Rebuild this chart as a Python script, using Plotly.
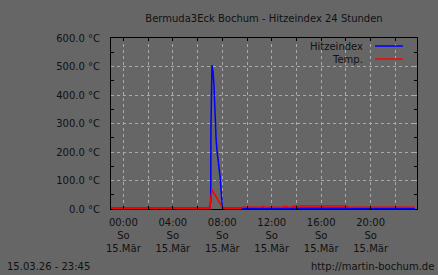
import plotly.graph_objects as go

# ---- data ----
temp_times = ["2026-03-14 23:00", "2026-03-15 07:00", "2026-03-15 07:04", "2026-03-15 07:10",
              "2026-03-15 08:00", "2026-03-15 08:05", "2026-03-15 09:30", "2026-03-15 09:35",
              "2026-03-15 11:10", "2026-03-15 11:15", "2026-03-15 11:25", "2026-03-15 12:55",
              "2026-03-15 13:00", "2026-03-15 13:15", "2026-03-15 13:20", "2026-03-15 13:35",
              "2026-03-15 13:40", "2026-03-15 14:00", "2026-03-15 18:05", "2026-03-15 18:10",
              "2026-03-15 23:35"]
temp_vals = [2.5, 2.5, 35, 68,
             5, 2.5, 2.5, 6,
             6, 9, 6, 6,
             9, 9, 6, 6,
             9, 10.5, 10.5, 6.5,
             6.5]

heat_times = ["2026-03-14 23:00", "2026-03-15 07:00", "2026-03-15 07:04", "2026-03-15 07:05",
              "2026-03-15 07:10", "2026-03-15 07:15", "2026-03-15 07:20", "2026-03-15 07:25",
              "2026-03-15 07:30", "2026-03-15 07:35", "2026-03-15 07:40", "2026-03-15 07:45",
              "2026-03-15 07:50", "2026-03-15 07:55", "2026-03-15 08:00", "2026-03-15 08:05",
              "2026-03-15 23:35"]
heat_vals = [2.5, 2.5, 30, 283,
             505, 482, 430, 300,
             245, 200, 160, 140,
             110, 70, 8, 2.5,
             2.5]

y_ticks = [0, 100, 200, 300, 400, 500, 600]
x_tickvals = ["2026-03-15 00:00", "2026-03-15 04:00", "2026-03-15 08:00",
              "2026-03-15 12:00", "2026-03-15 16:00", "2026-03-15 20:00"]
x_ticktext = [t[-5:] + "<br>So<br>15.Mär" for t in x_tickvals]

title_text = "Bermuda3Eck Bochum - Hitzeindex 24 Stunden"
series_names = ["Hitzeindex", "Temp."]
series_colors = ["#0000ff", "#ff0000"]

BG = "#666666"
TXT = "#111111"
GRID = "#ababab"
FONT = "DejaVu Sans"
DASH = "3px,3px"

fig = go.Figure()
fig.add_trace(go.Scatter(x=heat_times, y=heat_vals, mode="lines", name=series_names[0],
                         line=dict(color=series_colors[0], width=1.5), showlegend=False))
fig.add_trace(go.Scatter(x=temp_times, y=temp_vals, mode="lines", name=series_names[1],
                         line=dict(color=series_colors[1], width=1.5), showlegend=False))

fig.update_layout(
    width=438, height=275,
    margin=dict(l=111, r=21, t=38, b=66),
    paper_bgcolor=BG, plot_bgcolor=BG,
    font=dict(family=FONT, size=10, color=TXT),
    title=dict(text=title_text, x=0.5, xref="paper", xanchor="center",
               y=1 - 18 / 275, yanchor="middle", font=dict(size=10, color=TXT)),
)

fig.update_xaxes(
    range=["2026-03-14 23:00", "2026-03-15 23:45"],
    tickmode="array", tickvals=x_tickvals, ticktext=x_ticktext,
    showgrid=False, zeroline=False,
    showline=True, linecolor="black", linewidth=1, mirror="ticks",
    ticks="inside", ticklen=3, tickcolor="black",
    ticklabelstandoff=4,
    tickfont=dict(size=10, color=TXT),
    minor=dict(dtick=2 * 3600000, tick0="2026-03-15 00:00", showgrid=True,
               gridcolor=GRID, griddash=DASH, gridwidth=1,
               ticks="inside", ticklen=3, tickcolor="black"),
)

fig.update_yaxes(
    range=[0, 600],
    tickmode="array", tickvals=y_ticks,
    ticktext=[f"{v:.1f} °C" for v in y_ticks],
    showgrid=True, gridcolor=GRID, griddash=DASH, gridwidth=1,
    zeroline=False,
    showline=True, linecolor="black", linewidth=1, mirror="ticks",
    ticks="inside", ticklen=3, tickcolor="#aaaaaa",
    ticklabelstandoff=8,
    tickfont=dict(size=10, color=TXT),
    minor=dict(dtick=50, tick0=0, ticks="inside", ticklen=3, tickcolor="black", showgrid=False),
)

# manual legend (text left, line sample right)
leg_y = [0.953, 0.877]
for name, col, yy in zip(series_names, series_colors, leg_y):
    fig.add_annotation(x=0.830, y=yy, xref="paper", yref="paper", text=name,
                       showarrow=False, xanchor="right", yanchor="middle",
                       font=dict(size=10, color=TXT))
    fig.add_shape(type="line", xref="paper", yref="paper", x0=0.863, x1=0.954,
                  y0=yy, y1=yy, line=dict(color=col, width=1.5))

# footer texts (positions converted from pixels to plot-area paper coords)
footer_y = (209 - 266.5) / 171
fig.add_annotation(x=(5 - 111) / 306, y=footer_y, xref="paper", yref="paper",
                   text="15.03.26 - 23:45", showarrow=False, xanchor="left",
                   yanchor="middle", font=dict(size=10, color=TXT))
fig.add_annotation(x=(436 - 111) / 306, y=footer_y, xref="paper", yref="paper",
                   text="http://martin-bochum.de", showarrow=False, xanchor="right",
                   yanchor="middle", font=dict(size=10, color=TXT))

fig.write_html("out.html")
